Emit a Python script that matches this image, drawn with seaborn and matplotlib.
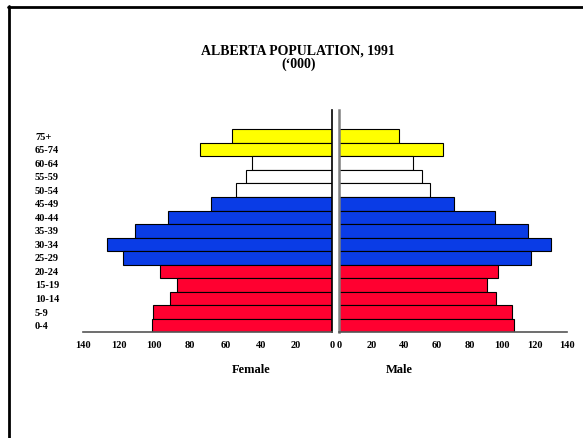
import matplotlib
matplotlib.use("Agg")
import matplotlib.pyplot as plt
import seaborn as sns
import pandas as pd
from matplotlib.lines import Line2D

# data (thousands), top to bottom
ages = ['75+', '65-74', '60-64', '55-59', '50-54', '45-49', '40-44', '35-39',
        '30-34', '25-29', '20-24', '15-19', '10-14', '5-9', '0-4']
female = [56, 74, 45, 48.5, 54, 68, 92, 111, 126.5, 117.5, 96.5, 87, 91, 101, 101.5]
male = [37, 63.5, 45.5, 51, 56, 70.5, 95.5, 116, 130, 117.5, 97.5, 91, 96, 106, 107]
groups = ['old', 'old', 'mid', 'mid', 'mid', 'adult', 'adult', 'adult',
          'adult', 'adult', 'young', 'young', 'young', 'young', 'young']
group_colors = {'old': '#FFFF00', 'mid': '#FFFFFF', 'adult': '#0A3CE6', 'young': '#FF0030'}
xticks = [0, 20, 40, 60, 80, 100, 120, 140]

df = pd.DataFrame({'Age': ages, 'Female': female, 'Male': male, 'Group': groups})
pal = [group_colors[g] for g in groups]

sns.set_style('white')
plt.rcParams['font.family'] = ['Liberation Serif', 'DejaVu Serif']
plt.rcParams['font.weight'] = 'bold'
plt.rcParams['text.color'] = 'black'
plt.rcParams['xtick.color'] = 'black'
plt.rcParams['ytick.color'] = 'black'

fig = plt.figure(figsize=(5.83, 4.38), dpi=100)
ax_f = fig.add_axes([0.1429, 0.2413, 0.4261, 0.5075])
ax_m = fig.add_axes([0.5815, 0.2413, 0.3916, 0.5075])

sns.barplot(data=df, x='Female', y='Age', hue='Age', palette=pal, orient='h',
            width=1.0, saturation=1, edgecolor='black', linewidth=0.8,
            legend=False, ax=ax_f)
sns.barplot(data=df, x='Male', y='Age', hue='Age', palette=pal, orient='h',
            width=1.0, saturation=1, edgecolor='black', linewidth=0.8,
            legend=False, ax=ax_m)

for ax in (ax_f, ax_m):
    ax.set_ylim(14.5, -1.93)
    ax.set_xticks(xticks)
    ax.set_xticklabels([str(t) for t in xticks], fontsize=7.5, fontweight='bold')
    ax.tick_params(axis='x', direction='out', length=4, width=0.8, pad=2, colors='black')
    ax.set_xlabel('')
    ax.set_ylabel('')
    ax.spines['top'].set_visible(False)
    ax.spines['bottom'].set_color('#555555')
    ax.spines['bottom'].set_linewidth(1.2)

ax_f.set_xlim(140, 0)
ax_m.set_xlim(0, 140)

ax_f.spines['left'].set_visible(False)
ax_f.spines['right'].set_visible(True)
ax_f.spines['right'].set_color('black')
ax_f.spines['right'].set_linewidth(1.2)
ax_f.tick_params(axis='y', length=0, pad=34.8)
ax_f.set_yticks(range(len(ages)))
ax_f.set_yticklabels(ages, fontsize=7.5, fontweight='bold', ha='left')

ax_m.spines['right'].set_visible(False)
ax_m.spines['left'].set_color('#808080')
ax_m.spines['left'].set_linewidth(1.8)
ax_m.set_yticks([])

fig.text(0.5117, 0.884, 'ALBERTA POPULATION, 1991', ha='center', va='center',
         fontsize=10, fontweight='bold')
fig.text(0.5117, 0.854, '(\u2018000)', ha='center', va='center',
         fontsize=10, fontweight='bold')
fig.text(251 / 583, 1 - 370 / 438, 'Female', ha='center', va='center',
         fontsize=9, fontweight='bold')
fig.text(399 / 583, 1 - 370 / 438, 'Male', ha='center', va='center',
         fontsize=9, fontweight='bold')

# partial frame around the page
fig.add_artist(Line2D([8 / 583, 1], [1 - 7 / 438, 1 - 7 / 438], color='black',
                      linewidth=2, transform=fig.transFigure))
fig.add_artist(Line2D([9 / 583, 9 / 583], [0, 1 - 6 / 438], color='black',
                      linewidth=2, transform=fig.transFigure))

fig.savefig('out.png', dpi=100)
